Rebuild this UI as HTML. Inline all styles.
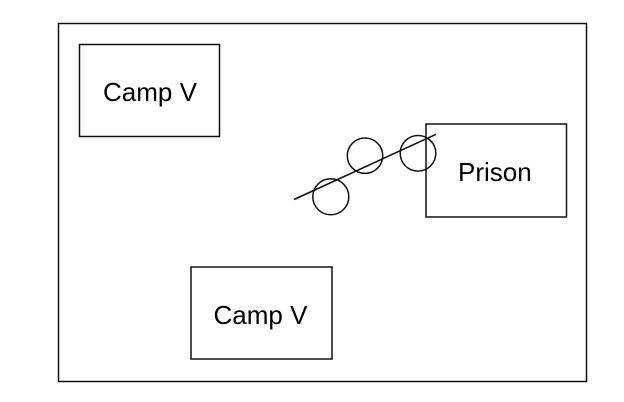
<!DOCTYPE html>
<html><head><meta charset="utf-8"><style>
html,body{margin:0;padding:0;background:#fff;}
svg{display:block;}
text{font-family:"Liberation Sans",sans-serif;font-size:26px;fill:#000;}
</style></head><body>
<svg width="624" height="402" viewBox="0 0 624 402" xmlns="http://www.w3.org/2000/svg">
<rect x="58.5" y="23.5" width="528" height="358" fill="none" stroke="#111" stroke-width="1.5"/>
<rect x="79.5" y="44.5" width="140" height="92" fill="none" stroke="#111" stroke-width="1.5"/>
<rect x="191" y="267" width="141" height="92" fill="none" stroke="#111" stroke-width="1.5"/>
<rect x="426" y="124" width="140.5" height="93" fill="none" stroke="#111" stroke-width="1.5"/>
<circle cx="330.8" cy="196.8" r="18" fill="none" stroke="#111" stroke-width="1.5"/>
<circle cx="365" cy="155.7" r="17.7" fill="none" stroke="#111" stroke-width="1.5"/>
<circle cx="418" cy="153.3" r="17.8" fill="none" stroke="#111" stroke-width="1.5"/>
<line x1="294" y1="199.5" x2="436" y2="134.3" stroke="#111" stroke-width="1.6"/>
<text x="103" y="101">Camp V</text>
<text x="213.5" y="324">Camp V</text>
<text x="458" y="181">Prison</text>
</svg>
</body></html>
